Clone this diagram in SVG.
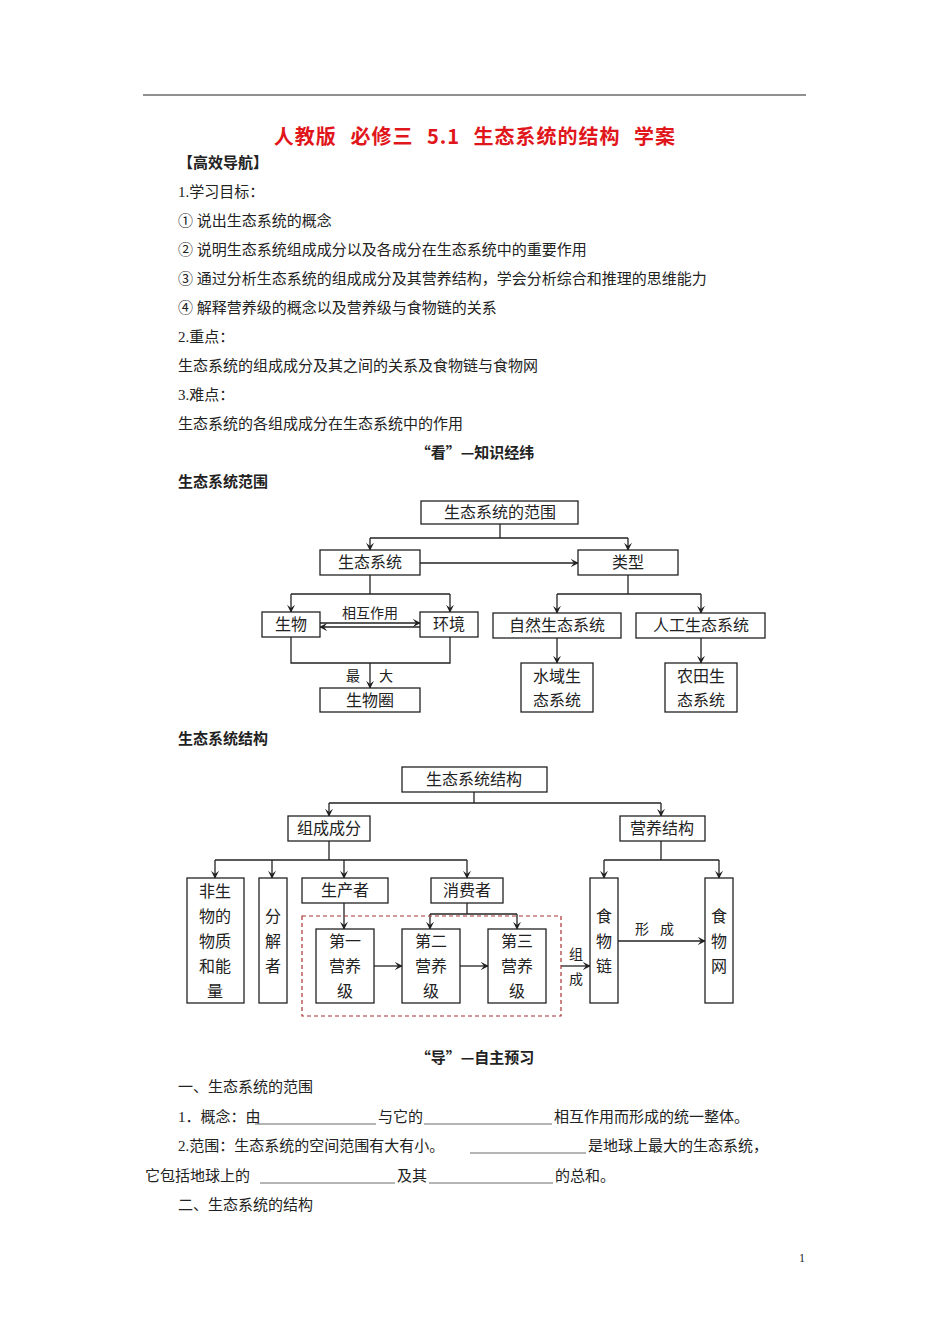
<svg xmlns="http://www.w3.org/2000/svg" width="950" height="1344" viewBox="0 0 950 1344">
<style>
text{font-family:"Liberation Serif","Noto Sans CJK SC",serif;font-size:15px;fill:#222}
.b{font-weight:bold}
.n rect{fill:#fff;stroke:#222;stroke-width:1.3}
.n text{font-family:"Noto Sans CJK SC",sans-serif;font-size:16px;text-anchor:middle}
.c line,.c polyline{stroke:#222;stroke-width:1.3;fill:none}
.c line.a{marker-end:url(#ar)}
.u{stroke:#444;stroke-width:0.8}
.l{font-family:"Noto Sans CJK SC",sans-serif;font-size:14px;text-anchor:middle}
</style>
<defs><marker id="ar" viewBox="0 0 10 10" refX="9" refY="5" markerWidth="8" markerHeight="8" orient="auto" markerUnits="userSpaceOnUse"><path d="M0,0L10,5L0,10L4,5z" fill="#222"/></marker>
<marker id="as" viewBox="0 0 10 10" refX="1" refY="5" markerWidth="8" markerHeight="8" orient="auto" markerUnits="userSpaceOnUse"><path d="M10,0L0,5L10,10L6,5z" fill="#222"/></marker></defs>
<rect width="950" height="1344" fill="#fff"/>
<line x1="143" y1="95" x2="806" y2="95" stroke="#222" stroke-width="1.2"/>
<text x="475" y="144" text-anchor="middle" class="b" style="font-size:20px;fill:#e0161b;font-family:'Noto Sans CJK SC',sans-serif;word-spacing:8px;letter-spacing:1px">人教版 必修三 5.1 生态系统的结构 学案</text>
<text x="178" y="168" class="b" style="font-family:'Noto Sans CJK SC',sans-serif">【高效导航】</text>
<text x="178" y="197">1.学习目标：</text>
<text x="178" y="226">① 说出生态系统的概念</text>
<text x="178" y="255">② 说明生态系统组成成分以及各成分在生态系统中的重要作用</text>
<text x="178" y="284">③ 通过分析生态系统的组成成分及其营养结构，学会分析综合和推理的思维能力</text>
<text x="178" y="313">④ 解释营养级的概念以及营养级与食物链的关系</text>
<text x="178" y="342">2.重点：</text>
<text x="178" y="371">生态系统的组成成分及其之间的关系及食物链与食物网</text>
<text x="178" y="400">3.难点：</text>
<text x="178" y="429">生态系统的各组成成分在生态系统中的作用</text>
<text x="475" y="458" text-anchor="middle" class="b" style="font-family:'Noto Sans CJK SC',sans-serif">“看”—知识经纬</text>
<text x="178" y="487" class="b" style="font-family:'Noto Sans CJK SC',sans-serif">生态系统范围</text>
<text x="178" y="744" class="b" style="font-family:'Noto Sans CJK SC',sans-serif">生态系统结构</text>

<g class="c" id="connectors">
<polyline points="500,524 500,538"/><polyline points="370,538 628,538"/>
<line class="a" x1="370" y1="538" x2="370" y2="550"/><line class="a" x1="628" y1="538" x2="628" y2="550"/>
<line class="a" x1="420" y1="563" x2="578" y2="563"/>
<polyline points="370,575 370,594"/><polyline points="291,594 450,594"/>
<line class="a" x1="291" y1="594" x2="291" y2="612"/><line class="a" x1="450" y1="594" x2="450" y2="612"/>
<line class="a" x1="320" y1="623" x2="420" y2="623"/><line x1="320" y1="627" x2="420" y2="627" style="marker-start:url(#as)"/>
<polyline points="291,637 291,663 450,663 450,637"/>
<line class="a" x1="370" y1="663" x2="370" y2="688"/>
<polyline points="628,575 628,594"/><polyline points="557,594 701,594"/>
<line class="a" x1="557" y1="594" x2="557" y2="613"/><line class="a" x1="701" y1="594" x2="701" y2="613"/>
<line class="a" x1="557" y1="638" x2="557" y2="663"/><line class="a" x1="701" y1="638" x2="701" y2="663"/>

<polyline points="474,792 474,803"/><polyline points="329,803 661,803"/>
<line class="a" x1="329" y1="803" x2="329" y2="816"/><line class="a" x1="661" y1="803" x2="661" y2="816"/>
<polyline points="329,841 329,860"/><polyline points="215,860 467,860"/>
<line class="a" x1="215" y1="860" x2="215" y2="878"/><line class="a" x1="272" y1="860" x2="272" y2="878"/>
<line class="a" x1="344" y1="860" x2="344" y2="878"/><line class="a" x1="467" y1="860" x2="467" y2="878"/>
<line class="a" x1="344" y1="903" x2="344" y2="929"/>
<polyline points="467,903 467,914"/><polyline points="430,914 517,914"/>
<line class="a" x1="430" y1="914" x2="430" y2="929"/><line class="a" x1="517" y1="914" x2="517" y2="929"/>
<line class="a" x1="374" y1="966" x2="402" y2="966"/><line class="a" x1="460" y1="966" x2="488" y2="966"/>
<line class="a" x1="561" y1="966" x2="590" y2="966"/>
<polyline points="661,841 661,860"/><polyline points="604,860 719,860"/>
<line class="a" x1="604" y1="860" x2="604" y2="878"/><line class="a" x1="719" y1="860" x2="719" y2="878"/>
<line class="a" x1="618" y1="941" x2="705" y2="941"/>
<rect x="302" y="916" width="259" height="100" fill="none" stroke="#a33" stroke-width="1.2" stroke-dasharray="4,3"/>
</g>
<text class="l" x="370" y="618">相互作用</text>
<text class="l" x="353" y="681">最</text><text class="l" x="386" y="681">大</text>
<text class="l" x="576" y="959">组</text><text class="l" x="576" y="984">成</text>
<text class="l" x="642" y="934">形</text><text class="l" x="667" y="934">成</text>

<g class="n" id="n1"><rect x="421" y="501" width="157" height="23"/><text x="500" y="518">生态系统的范围</text></g>
<g class="n" id="n2"><rect x="320" y="550" width="100" height="25"/><text x="370" y="568">生态系统</text></g>
<g class="n" id="n3"><rect x="578" y="550" width="100" height="25"/><text x="628" y="568">类型</text></g>
<g class="n" id="n4"><rect x="262" y="612" width="58" height="25"/><text x="291" y="630">生物</text></g>
<g class="n" id="n5"><rect x="420" y="612" width="58" height="25"/><text x="449" y="630">环境</text></g>
<g class="n" id="n6"><rect x="320" y="688" width="100" height="24"/><text x="370" y="706">生物圈</text></g>
<g class="n" id="n7"><rect x="493" y="613" width="128" height="25"/><text x="557" y="631">自然生态系统</text></g>
<g class="n" id="n8"><rect x="636" y="613" width="129" height="25"/><text x="701" y="631">人工生态系统</text></g>
<g class="n" id="n9"><rect x="521" y="663" width="72" height="49"/><text x="557" y="682">水域生</text><text x="557" y="706">态系统</text></g>
<g class="n" id="n10"><rect x="665" y="663" width="72" height="49"/><text x="701" y="682">农田生</text><text x="701" y="706">态系统</text></g>

<g class="n" id="m1"><rect x="402" y="767" width="145" height="25"/><text x="474" y="785">生态系统结构</text></g>
<g class="n" id="m2"><rect x="288" y="816" width="82" height="25"/><text x="329" y="834">组成成分</text></g>
<g class="n" id="m3"><rect x="620" y="816" width="85" height="25"/><text x="662" y="834">营养结构</text></g>
<g class="n" id="m4"><rect x="187" y="878" width="57" height="125"/><text x="215" y="897">非生</text><text x="215" y="922">物的</text><text x="215" y="947">物质</text><text x="215" y="972">和能</text><text x="215" y="997">量</text></g>
<g class="n" id="m5"><rect x="259" y="878" width="28" height="125"/><text x="273" y="922">分</text><text x="273" y="947">解</text><text x="273" y="972">者</text></g>
<g class="n" id="m6"><rect x="302" y="878" width="86" height="25"/><text x="345" y="896">生产者</text></g>
<g class="n" id="m7"><rect x="431" y="878" width="72" height="25"/><text x="467" y="896">消费者</text></g>
<g class="n" id="m8"><rect x="316" y="929" width="58" height="74"/><text x="345" y="947">第一</text><text x="345" y="972">营养</text><text x="345" y="997">级</text></g>
<g class="n" id="m9"><rect x="402" y="929" width="58" height="74"/><text x="431" y="947">第二</text><text x="431" y="972">营养</text><text x="431" y="997">级</text></g>
<g class="n" id="m10"><rect x="488" y="929" width="58" height="74"/><text x="517" y="947">第三</text><text x="517" y="972">营养</text><text x="517" y="997">级</text></g>
<g class="n" id="m11"><rect x="590" y="878" width="28" height="125"/><text x="604" y="922">食</text><text x="604" y="947">物</text><text x="604" y="972">链</text></g>
<g class="n" id="m12"><rect x="705" y="878" width="28" height="125"/><text x="719" y="922">食</text><text x="719" y="947">物</text><text x="719" y="972">网</text></g>

<text x="475" y="1063" text-anchor="middle" class="b" style="font-family:'Noto Sans CJK SC',sans-serif">“导”—自主预习</text>
<text x="178" y="1092">一、生态系统的范围</text>
<text x="178" y="1122">1．概念：由</text><line class="u" x1="255" y1="1124" x2="376" y2="1124"/>
<text x="378" y="1122">与它的</text><line class="u" x1="424" y1="1124" x2="552" y2="1124"/>
<text x="554" y="1122">相互作用而形成的统一整体。</text>
<text x="178" y="1151">2.范围：生态系统的空间范围有大有小。</text><line class="u" x1="470" y1="1153" x2="586" y2="1153"/>
<text x="588" y="1151">是地球上最大的生态系统，</text>
<text x="145" y="1181">它包括地球上的</text><line class="u" x1="260" y1="1183" x2="395" y2="1183"/>
<text x="397" y="1181">及其</text><line class="u" x1="429" y1="1183" x2="553" y2="1183"/>
<text x="555" y="1181">的总和。</text>
<text x="178" y="1210">二、生态系统的结构</text>
<text x="802" y="1262" text-anchor="middle" style="font-size:12px">1</text>
</svg>
